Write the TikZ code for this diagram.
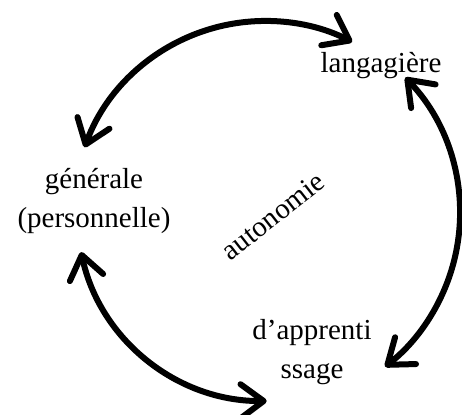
\documentclass[tikz,border=0pt]{standalone}
\usepackage{fontspec}
\setmainfont{Liberation Serif}
\usetikzlibrary{arrows.meta}
\begin{document}
\begin{tikzpicture}[x=1pt,y=1pt,
  lbl/.style={font=\fontsize{29}{39}\selectfont, align=center, inner sep=0pt},
  arr/.style={line width=6pt, line cap=round,
    {Straight Barb[length=23pt, width=34pt, round]}-{Straight Barb[length=23pt, width=34pt, round]}}]
\useasboundingbox (0,0) rectangle (462,414);
\node[lbl, anchor=base] (lang) at (381,341) {langagière};
\node[lbl] (gen) at (94,213) {générale\\(personnelle)};
\node[lbl] (app) at (312,62) {d’apprenti\\ssage};
\node[lbl, rotate=38] (auto) at (273,198) {autonomie};
\coordinate (c) at (265,201);
\coordinate (a1) at ([shift={(160:192pt)}]c);
\coordinate (a2) at ([shift={(44:195pt)}]c);
\coordinate (a3) at ([shift={(270.5:188pt)}]c);
\draw[arr] (a1) arc[start angle=160, end angle=63, radius=192pt];
\draw[arr] (a2) arc[start angle=44, end angle=-52, radius=195pt];
\draw[arr] (a3) arc[start angle=270.5, end angle=192, radius=188pt];
\end{tikzpicture}
\end{document}
